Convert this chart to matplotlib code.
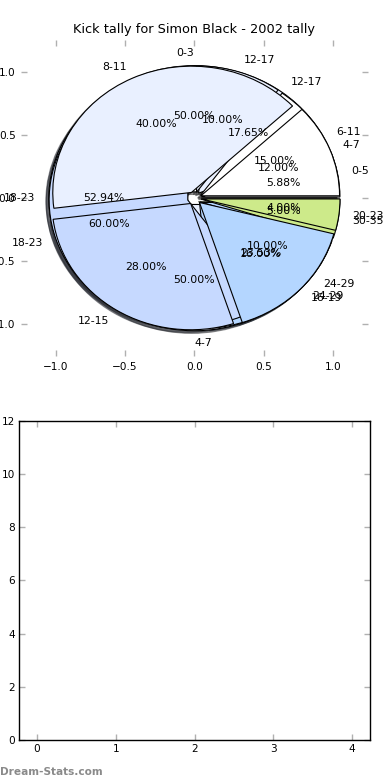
import matplotlib
matplotlib.use('Agg')
import matplotlib.pyplot as plt

# four age-group tallies drawn onto the same pie axes
ages_a = ['0-3', '4-7']
kicks_a = [1, 1]

ages_c = ['0-5', '12-17', '18-23', '24-29']
kicks_c = [1, 3, 9, 4]

ages_d = ['6-11', '12-17', '18-23', '24-29', '30-35']
kicks_d = [3, 2, 12, 2, 1]

ages_b = ['4-7', '8-11', '12-15', '16-19', '20-23']
kicks_b = [3, 10, 7, 4, 1]

wedge_colors = ['white', '#e9f0ff', '#c6d9ff', '#b4d6ff', '#cdea8a']
title = 'Kick tally for Simon Black - 2002 tally'

fs = 7.8
tick_grey = '#b0b0b0'

fig = plt.figure(figsize=(3.9, 7.8), dpi=100)

ax = fig.add_axes([0.054, 0.5436, 0.889, 0.4047])
for labels, vals in [(ages_a, kicks_a), (ages_c, kicks_c),
                     (ages_d, kicks_d), (ages_b, kicks_b)]:
    ax.pie(vals, labels=labels, colors=wedge_colors[:len(vals)],
           explode=[0.05] * len(vals), autopct='%1.2f%%',
           shadow=dict(ox=-0.015, oy=-0.015, shade=0.8),
           startangle=0, labeldistance=1.1, pctdistance=0.6,
           wedgeprops=dict(edgecolor='black', linewidth=0.8),
           textprops=dict(fontsize=fs))
ax.set_aspect('auto')
ax.set_xlim(-1.25, 1.25)
ax.set_ylim(-1.25, 1.25)
ax.set_xticks([-1.0, -0.5, 0.0, 0.5, 1.0])
ax.set_yticks([-1.0, -0.5, 0.0, 0.5, 1.0])
ax.set_frame_on(False)
ax.tick_params(direction='in', length=4, width=1, color=tick_grey,
               top=True, right=True, labelsize=7.6, pad=4)
ax.set_title(title, fontsize=9.3, pad=5)

ax2 = fig.add_axes([0.0495, 0.0513, 0.899, 0.409])
ax2.set_xlim(-0.225, 4.225)
ax2.set_ylim(0, 12)
ax2.set_xticks(range(5))
ax2.set_yticks(range(0, 13, 2))
ax2.tick_params(direction='in', length=4, width=1, color=tick_grey,
                top=True, right=True, labelsize=7.6, pad=3)
for s in ax2.spines.values():
    s.set_linewidth(1)

fig.text(0.0, 0.004, 'Dream-Stats.com', fontsize=7.6, color='#8a8a8a',
         fontweight='bold', ha='left', va='bottom')

fig.savefig('out.png', dpi=100)
